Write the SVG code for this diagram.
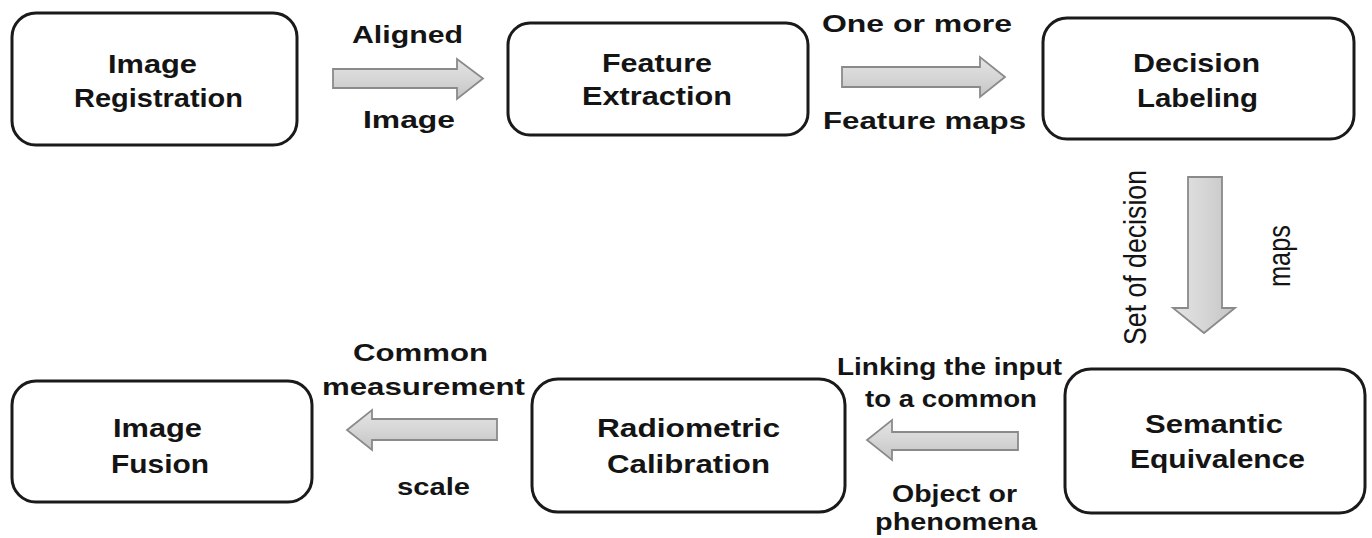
<svg xmlns="http://www.w3.org/2000/svg" width="1372" height="538" viewBox="0 0 1372 538">
<defs>
<linearGradient id="gh" x1="0" y1="0" x2="0" y2="1">
<stop offset="0" stop-color="#e4e4e4"/>
<stop offset="0.5" stop-color="#d6d6d6"/>
<stop offset="1" stop-color="#c4c4c4"/>
</linearGradient>
<linearGradient id="gv" x1="0" y1="0" x2="1" y2="0">
<stop offset="0" stop-color="#e4e4e4"/>
<stop offset="0.5" stop-color="#d6d6d6"/>
<stop offset="1" stop-color="#c4c4c4"/>
</linearGradient>
<style>
.box{fill:#fff;stroke:#1a1a1a;stroke-width:3}
.arr{stroke:#8a8a8a;stroke-width:1.8;stroke-linejoin:miter}
.h{fill:url(#gh)}
.v{fill:url(#gv)}
text{font-family:"Liberation Sans",Arial,sans-serif;fill:#141414;font-weight:bold}
.bt{font-size:26px}
.lt{font-size:23px}
.rt{font-size:31px;font-weight:normal}
</style>
</defs>
<rect width="1372" height="538" fill="#fff"/>
<g id="connectors">
<polygon class="arr h" points="333,69 457,69 457,59 483,78.5 457,99 457,88 333,88"/>
<polygon class="arr h" points="842,67 980,67 980,57 1005,77 980,97 980,87 842,87"/>
<polygon class="arr v" points="1188,177 1222,177 1222,308 1235,308 1204,333 1173,308 1188,308"/>
<polygon class="arr h" points="1018,432 892,432 892,420 867,440 892,460 892,450 1018,450"/>
<polygon class="arr h" points="497,419 372,419 372,410 347,430 372,450 372,440 497,440"/>
<text class="lt" x="352" y="43" textLength="111" lengthAdjust="spacingAndGlyphs">Aligned</text>
<text class="lt" x="363" y="128" textLength="92" lengthAdjust="spacingAndGlyphs">Image</text>
<text class="lt" x="822" y="32" textLength="190" lengthAdjust="spacingAndGlyphs">One or more</text>
<text class="lt" x="823" y="129" textLength="203" lengthAdjust="spacingAndGlyphs">Feature maps</text>
<text class="rt" transform="translate(1146,345) rotate(-90)" textLength="175" lengthAdjust="spacingAndGlyphs">Set of decision</text>
<text class="rt" transform="translate(1290,287) rotate(-90)" textLength="62" lengthAdjust="spacingAndGlyphs">maps</text>
<text class="lt" x="837" y="375" textLength="225" lengthAdjust="spacingAndGlyphs">Linking the input</text>
<text class="lt" x="865" y="407" textLength="172" lengthAdjust="spacingAndGlyphs">to a common</text>
<text class="lt" x="892" y="502" textLength="125" lengthAdjust="spacingAndGlyphs">Object or</text>
<text class="lt" x="875" y="530" textLength="162" lengthAdjust="spacingAndGlyphs">phenomena</text>
<text class="lt" x="353" y="361" textLength="135" lengthAdjust="spacingAndGlyphs">Common</text>
<text class="lt" x="322" y="395" textLength="203" lengthAdjust="spacingAndGlyphs">measurement</text>
<text class="lt" x="397" y="495" textLength="73" lengthAdjust="spacingAndGlyphs">scale</text>
</g>
<g id="image-registration">
<rect class="box" x="12" y="13" width="285" height="132" rx="24"/>
<text class="bt" x="108" y="73" textLength="89" lengthAdjust="spacingAndGlyphs">Image</text>
<text class="bt" x="74" y="107" textLength="169" lengthAdjust="spacingAndGlyphs">Registration</text>
</g>
<g id="feature-extraction">
<rect class="box" x="508" y="23" width="300" height="112" rx="22"/>
<text class="bt" x="602" y="72" textLength="110" lengthAdjust="spacingAndGlyphs">Feature</text>
<text class="bt" x="582" y="105" textLength="150" lengthAdjust="spacingAndGlyphs">Extraction</text>
</g>
<g id="decision-labeling">
<rect class="box" x="1043" y="18" width="311" height="121" rx="24"/>
<text class="bt" x="1133" y="72" textLength="127" lengthAdjust="spacingAndGlyphs">Decision</text>
<text class="bt" x="1137" y="107" textLength="121" lengthAdjust="spacingAndGlyphs">Labeling</text>
</g>
<g id="semantic-equivalence">
<rect class="box" x="1065" y="369" width="300" height="144" rx="26"/>
<text class="bt" x="1145" y="433" textLength="138" lengthAdjust="spacingAndGlyphs">Semantic</text>
<text class="bt" x="1130" y="468" textLength="175" lengthAdjust="spacingAndGlyphs">Equivalence</text>
</g>
<g id="radiometric-calibration">
<rect class="box" x="532" y="379" width="313" height="133" rx="26"/>
<text class="bt" x="597" y="437" textLength="183" lengthAdjust="spacingAndGlyphs">Radiometric</text>
<text class="bt" x="607" y="473" textLength="163" lengthAdjust="spacingAndGlyphs">Calibration</text>
</g>
<g id="image-fusion">
<rect class="box" x="12" y="381" width="300" height="121" rx="24"/>
<text class="bt" x="113" y="437" textLength="89" lengthAdjust="spacingAndGlyphs">Image</text>
<text class="bt" x="111" y="473" textLength="98" lengthAdjust="spacingAndGlyphs">Fusion</text>
</g>
</svg>
